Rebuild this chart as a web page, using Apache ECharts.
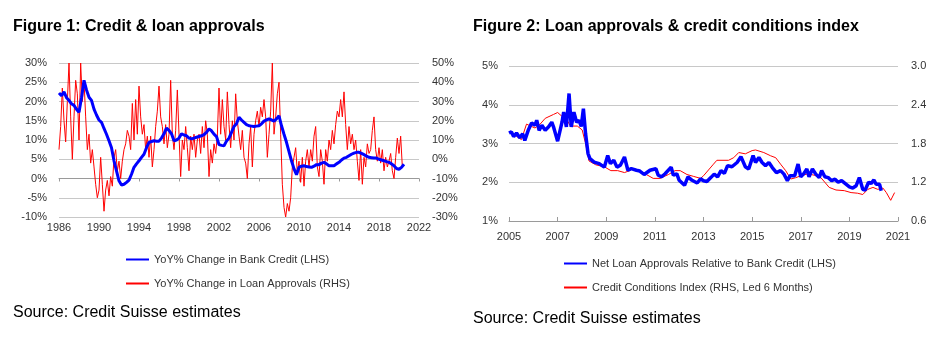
<!DOCTYPE html>
<html>
<head>
<meta charset="utf-8">
<script src="https://cdn.jsdelivr.net/npm/echarts@6/dist/echarts.min.js"></script>
<style>
  html, body { margin: 0; padding: 0; background: #fff; }
  #chart { width: 947px; height: 352px; }
</style>
</head>
<body>
<div id="chart"></div>
<script>
// Figure 1: quarterly bank credit YoY % (LHS), from 1986 Q1
const creditStart = 1986;
const bankCredit = [
  22.2, 21.5, 22.5, 21, 20.3, 19.4, 19, 18, 17.2, 21, 25.5, 23,
  21.1, 20.3, 18, 16.5, 15.2, 14.6, 13, 11.5, 9.8, 8, 4.6, 2,
  -0.6, -1.7, -1.5, -1, -0.4, 1.1, 2.9, 3.8, 4.6, 5.5, 6.3, 8,
  9.4, 9.6, 9.8, 9.7, 9.7, 10.5, 11.6, 13.1, 12.5, 11.6, 9.8, 10,
  10.5, 11.6, 11.3, 11.1, 10.5, 10.3, 10.5, 10.7, 10.9, 11.1, 11.4, 12,
  12.9, 12.4, 11.5, 10.9, 8.8, 8.6, 8.5, 9.7, 10.5, 12, 13.5, 14.2,
  15.9, 15.2, 14.6, 14, 13.7, 13.6, 13.5, 13.6, 13.7, 14.2, 14.9, 15.2,
  15.5, 15.2, 14.9, 15.5, 16.3, 13.7, 11.5, 9.4, 7, 4.6, 2.5, 1.0,
  2.9, 3.2, 3.3, 3.1, 3.0, 2.9, 3.2, 3.6, 3.6, 4.0, 4.2, 3.8,
  3.3, 3.3, 3.3, 3.8, 4.2, 4.8, 5.3, 5.5, 5.9, 6.3, 6.6, 6.8,
  6.8, 6.5, 6.2, 5.8, 5.5, 5.4, 5.3, 5.3, 5.0, 4.8, 4.6, 4.4,
  4.2, 3.8, 3.3, 2.6, 2.4, 2.9, 3.7
];

// Figure 1: bi-monthly loan approvals YoY % (RHS), from 1986
const approvalsStart = 1986;
const loanApprovals = [
  5, 17, 37, 20, 9, 30,
  50, 22, 0, 22, 41, 34,
  10, 50, 30, 41, 22, 5,
  13, -2, 5, -4, -13, -20,
  -16, 1, -13, -27, -16, -11,
  -19, -9, -14, 1, 5, -6,
  -1, -10, -1, 5, 8, 15,
  12, 5, 29, 10, 31, 13,
  38, 22, 13, 18, 5, 12,
  1, 12, -4, 5, 17, 25,
  38, 22, 17, 8, 18, 6,
  13, 41, 13, 5, 15, 36,
  13, -9, 10, 5, 17, 6,
  -6, 12, 5, 13, 1, 10,
  13, 3, 17, 6, 20, 13,
  -9, 5, -2, 8, 3, 12,
  37, 13, 31, 17, 10, 35,
  18, 6, 20, 10, 34, 20,
  12, 5, 15, 1, -2, -10,
  8, 17, -4, 13, 20, 25,
  17, 27, 22, 31, 22, 1,
  13, 25, 50, 13, 22, 34,
  40, 13, -13, -25, -30, -23,
  -27, -20, -4, 1, 6, -7,
  -1, -12, 1, -14, -1, 5,
  -4, 5, -1, 12, 17, -4,
  -9, 5, -1, -13, 5, -1,
  10, 5, 15, 8, 18, 25,
  22, 31, 22, 35, 18, 5,
  17, 8, 13, 5, 10, -1,
  -11, 5, -13, 1, -4, 8,
  3, 5, 15, 22, 5, -1,
  6, -2, 5, -6, 1, -4,
  -1, 3, -6, -10, 1, 11,
  3, 12, -4
];

// Figure 2: net loan approvals relative to bank credit, % (LHS)
const nlaYears = [
  2005.0, 2005.10, 2005.19, 2005.31, 2005.44, 2005.56, 2005.65, 2005.79, 2005.93, 2006.07,
  2006.14, 2006.24, 2006.35, 2006.49, 2006.63, 2006.76, 2006.83, 2007.0, 2007.18, 2007.25,
  2007.36, 2007.47, 2007.56, 2007.67, 2007.78, 2007.88, 2007.97, 2008.06, 2008.15, 2008.25,
  2008.33, 2008.5, 2008.71, 2008.92, 2009.06, 2009.17, 2009.31, 2009.44, 2009.58, 2009.75,
  2009.89, 2010.03, 2010.24, 2010.38, 2010.56, 2010.8, 2011.04, 2011.14, 2011.28, 2011.42,
  2011.67, 2011.76, 2011.9, 2012.0, 2012.22, 2012.36, 2012.53, 2012.74, 2012.88, 2013.0,
  2013.14, 2013.30, 2013.44, 2013.58, 2013.72, 2013.86, 2013.99, 2014.17, 2014.38, 2014.54,
  2014.72, 2014.86, 2015.04, 2015.14, 2015.28, 2015.41, 2015.55, 2015.69, 2015.83, 2016.0,
  2016.17, 2016.31, 2016.45, 2016.56, 2016.75, 2016.89, 2017.0, 2017.11, 2017.25, 2017.34,
  2017.48, 2017.62, 2017.76, 2017.86, 2017.99, 2018.13, 2018.27, 2018.41, 2018.54, 2018.68,
  2018.86, 2019.0, 2019.14, 2019.28, 2019.41, 2019.55, 2019.65, 2019.79, 2019.9, 2020.01,
  2020.1, 2020.24, 2020.31
];
const nlaValues = [
  3.27, 3.30, 3.18, 3.27, 3.15, 3.25, 3.08, 3.34, 3.53, 3.47,
  3.6, 3.34, 3.47, 3.34, 3.43, 3.55, 3.43, 3.06, 3.55, 3.81,
  3.43, 4.29, 3.43, 3.81, 3.55, 3.6, 3.44, 3.9, 3.25, 2.74,
  2.61, 2.52, 2.48, 2.39, 2.69, 2.48, 2.57, 2.39, 2.44, 2.65,
  2.31, 2.35, 2.31, 2.29, 2.2, 2.31, 2.35, 2.18, 2.14, 2.22,
  2.39, 2.18, 2.22, 2.05, 1.92, 2.14, 2.05, 1.98, 2.09, 2.04,
  2.02, 2.12, 2.21, 2.14, 2.30, 2.23, 2.43, 2.40, 2.51, 2.66,
  2.40, 2.34, 2.69, 2.51, 2.64, 2.51, 2.43, 2.51, 2.38, 2.25,
  2.30, 2.21, 2.04, 2.17, 2.17, 2.47, 2.14, 2.21, 2.34, 2.14,
  2.34, 2.21, 2.12, 2.30, 2.14, 2.12, 2.04, 2.08, 2.0, 2.04,
  1.95, 1.88, 1.85, 1.91, 2.12, 1.82, 1.80, 2.0, 1.97, 2.06,
  1.95, 1.95, 1.78
];

// Figure 2: credit conditions index, led 6 months (RHS)
const cciYears = [
  2005.17, 2005.51, 2005.72, 2006.07, 2006.28, 2006.49, 2006.83, 2007.0, 2007.18, 2007.39,
  2007.53, 2007.81, 2008.01, 2008.15, 2008.29, 2008.57, 2008.92, 2009.19, 2009.47, 2009.75,
  2009.96, 2010.1, 2010.38, 2010.65, 2010.93, 2011.21, 2011.56, 2011.83, 2012.04, 2012.32,
  2012.6, 2012.88, 2013.0, 2013.41, 2013.55, 2014.03, 2014.24, 2014.45, 2014.72, 2015.0,
  2015.14, 2015.48, 2015.76, 2015.97, 2016.17, 2016.38, 2016.59, 2016.79, 2017.0, 2017.28,
  2017.55, 2017.83, 2017.99, 2018.17, 2018.45, 2018.79, 2019.07, 2019.34, 2019.55, 2019.76,
  2019.97, 2020.17, 2020.38, 2020.52, 2020.7, 2020.86
];
const cciValues = [
  1.95, 1.86, 2.10, 2.04, 2.10, 2.19, 2.25, 2.28, 2.22, 2.16,
  2.07, 2.07, 2.01, 1.80, 1.53, 1.47, 1.44, 1.38, 1.38, 1.35,
  1.38, 1.41, 1.38, 1.32, 1.26, 1.26, 1.32, 1.38, 1.38, 1.32,
  1.29, 1.26, 1.30, 1.48, 1.54, 1.54, 1.58, 1.66, 1.64, 1.69,
  1.70, 1.66, 1.61, 1.58, 1.48, 1.38, 1.25, 1.27, 1.30, 1.33,
  1.31, 1.27, 1.20, 1.12, 1.08, 1.07, 1.04, 1.03, 1.01, 1.09,
  1.12, 1.09, 1.11, 1.04, 0.92, 1.04
];

const FONT = "'Liberation Sans', Arial, sans-serif";
const labelStyle = { color: "#333", fontSize: 11, fontFamily: FONT };
const gridColor = "#c8c8c8";
const axisColor = "#9a9a9a";

const chart = echarts.init(document.getElementById("chart"));

chart.setOption({
  animation: false,
  textStyle: { fontFamily: FONT },
  title: [
    { text: "Figure 1: Credit & loan approvals", left: 13, top: 19, padding: 0,
      textStyle: { fontSize: 16, fontWeight: "bold", color: "#000", fontFamily: FONT } },
    { text: "Figure 2: Loan approvals & credit conditions index", left: 473, top: 19, padding: 0,
      textStyle: { fontSize: 16, fontWeight: "bold", color: "#000", fontFamily: FONT } },
    { text: "Source: Credit Suisse estimates", left: 13, top: 305, padding: 0,
      textStyle: { fontSize: 16, fontWeight: "normal", color: "#000", fontFamily: FONT } },
    { text: "Source: Credit Suisse estimates", left: 473, top: 311, padding: 0,
      textStyle: { fontSize: 16, fontWeight: "normal", color: "#000", fontFamily: FONT } },
  ],
  legend: [
    {
      data: ["YoY% Change in Bank Credit (LHS)", "YoY% Change in Loan Approvals (RHS)"],
      orient: "vertical", left: 120, top: 249, itemWidth: 23, itemHeight: 10, itemGap: 13,
      itemStyle: { opacity: 0 },
      textStyle: labelStyle,
    },
    {
      data: ["Net Loan Approvals Relative to Bank Credit (LHS)", "Credit Conditions Index (RHS, Led 6 Months)"],
      orient: "vertical", left: 558, top: 253, itemWidth: 23, itemHeight: 10, itemGap: 13,
      itemStyle: { opacity: 0 },
      textStyle: labelStyle,
    },
  ],
  grid: [
    { left: 59, top: 63, width: 360, height: 154 },
    { left: 509, top: 66, width: 389, height: 155 },
  ],
  xAxis: [
    {
      gridIndex: 0, type: "value", min: 0, max: 36, interval: 4,
      axisLine: { onZero: true, lineStyle: { color: axisColor } },
      axisTick: { show: true, length: 3, lineStyle: { color: axisColor } },
      axisLabel: { show: false },
      splitLine: { show: false },
    },
    {
      gridIndex: 0, type: "value", min: 0, max: 36, interval: 4, position: "bottom",
      axisLine: { show: false, onZero: false },
      axisTick: { show: false },
      axisLabel: { ...labelStyle, margin: 5, formatter: (v) => String(v + creditStart) },
      splitLine: { show: false },
    },
    {
      gridIndex: 1, type: "value", min: 0, max: 16, interval: 2,
      axisLine: { onZero: false, lineStyle: { color: axisColor } },
      axisTick: { show: true, inside: true, length: 4, lineStyle: { color: axisColor } },
      axisLabel: { ...labelStyle, margin: 10, formatter: (v) => String(v + 2005) },
      splitLine: { show: false },
    },
  ],
  yAxis: [
    {
      gridIndex: 0, type: "value", min: -10, max: 30, interval: 5, position: "left",
      axisLine: { show: false }, axisTick: { show: false },
      axisLabel: { ...labelStyle, margin: 12, formatter: (v) => v + "%" },
      splitLine: { lineStyle: { color: gridColor } },
    },
    {
      gridIndex: 0, type: "value", min: -30, max: 50, interval: 10, position: "right",
      axisLine: { show: false }, axisTick: { show: false },
      axisLabel: { ...labelStyle, margin: 13, formatter: (v) => v + "%" },
      splitLine: { show: false },
    },
    {
      gridIndex: 1, type: "value", min: 1, max: 5, interval: 1, position: "left",
      axisLine: { show: false }, axisTick: { show: false },
      axisLabel: { ...labelStyle, margin: 11, formatter: (v) => v + "%" },
      splitLine: { lineStyle: { color: gridColor } },
    },
    {
      gridIndex: 1, type: "value", min: 0.6, max: 3.0, interval: 0.6, position: "right",
      axisLine: { show: false }, axisTick: { show: false },
      axisLabel: { ...labelStyle, margin: 13, formatter: (v) => v.toFixed(1) },
      splitLine: { show: false },
    },
  ],
  series: [
    {
      name: "YoY% Change in Loan Approvals (RHS)", type: "line", xAxisIndex: 0, yAxisIndex: 1,
      data: loanApprovals.map((v, i) => [i / 6, v]),
      symbol: "none", z: 2,
      lineStyle: { color: "#ff0000", width: 1 }, itemStyle: { color: "#ff0000" },
    },
    {
      name: "YoY% Change in Bank Credit (LHS)", type: "line", xAxisIndex: 0, yAxisIndex: 0,
      data: bankCredit.map((v, i) => [i / 4, v]),
      symbol: "none", z: 3,
      lineStyle: { color: "#0000ff", width: 3 }, itemStyle: { color: "#0000ff" },
    },
    {
      name: "Credit Conditions Index (RHS, Led 6 Months)", type: "line", xAxisIndex: 2, yAxisIndex: 3,
      data: cciYears.map((y, i) => [y - 2005, cciValues[i]]),
      symbol: "none", z: 2,
      lineStyle: { color: "#ff0000", width: 1 }, itemStyle: { color: "#ff0000" },
    },
    {
      name: "Net Loan Approvals Relative to Bank Credit (LHS)", type: "line", xAxisIndex: 2, yAxisIndex: 2,
      data: nlaYears.map((y, i) => [y - 2005, nlaValues[i]]),
      symbol: "none", z: 3,
      lineStyle: { color: "#0000ff", width: 3.5 }, itemStyle: { color: "#0000ff" },
    },
  ],
});
</script>
</body>
</html>
